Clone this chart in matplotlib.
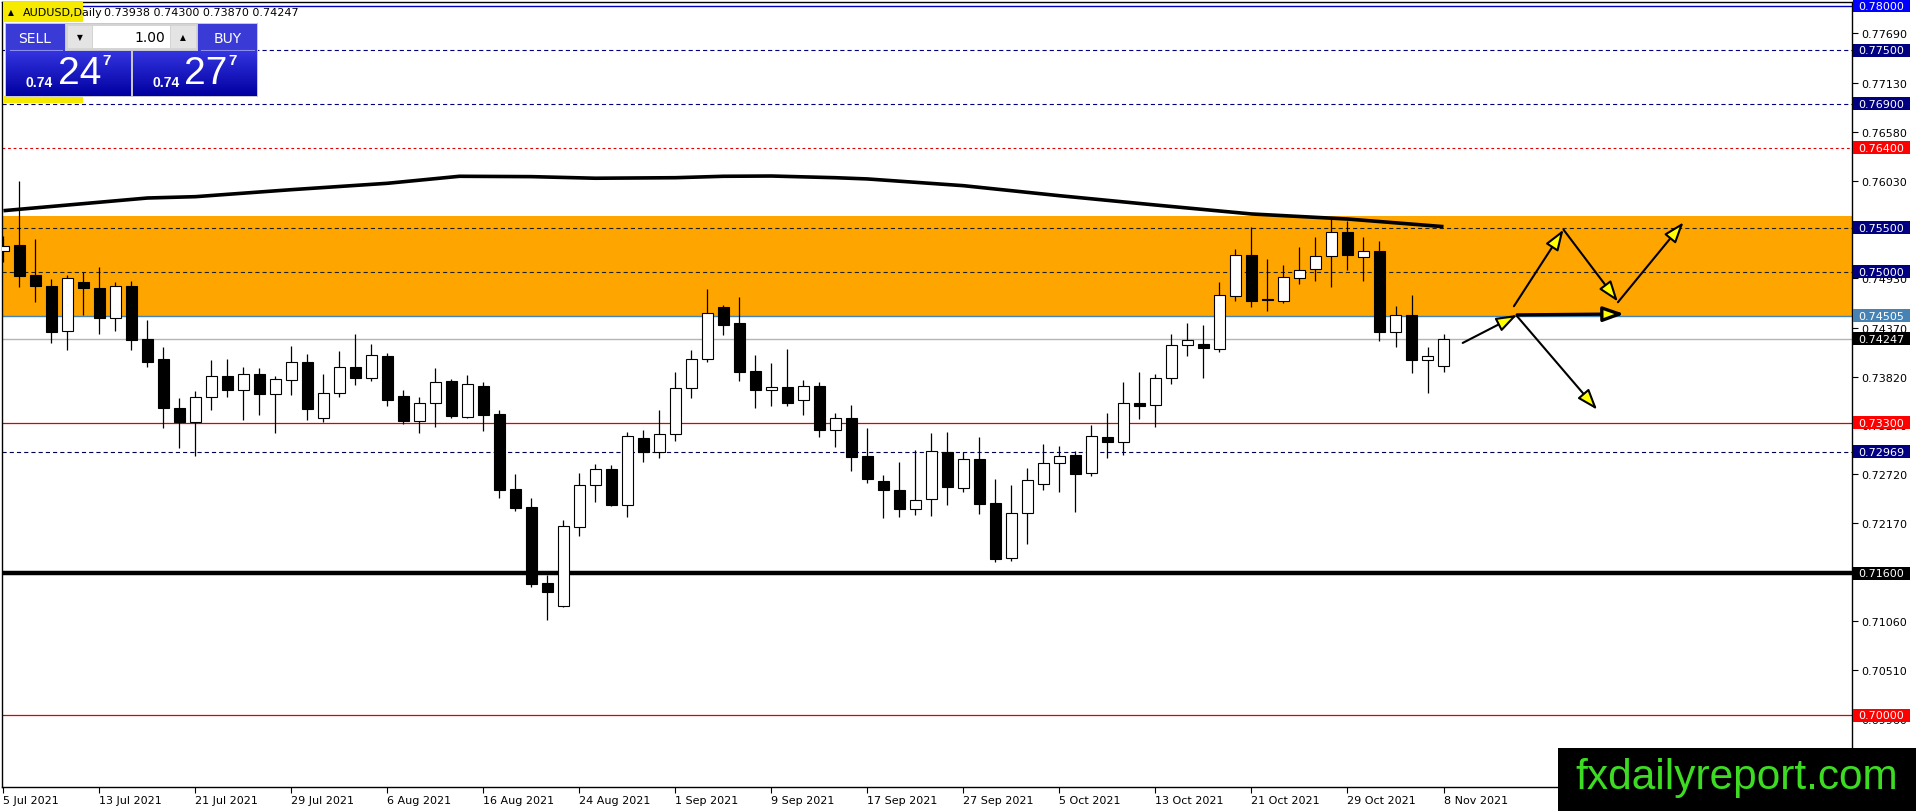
import matplotlib
matplotlib.use('Agg')
import matplotlib.pyplot as plt
import matplotlib.transforms as mtransforms
import numpy as np
from matplotlib.patches import Rectangle
from matplotlib.colors import LinearSegmentedColormap

plt.rcParams['lines.scale_dashes'] = False
plt.rcParams['font.family'] = ['DejaVu Sans']

# AUDUSD daily candles, 5 Jul 2021 - 8 Nov 2021
opens = [0.75236, 0.75304, 0.74966, 0.74842, 0.74334, 0.74887, 0.74819, 0.74481, 0.74842, 0.74244,
         0.74018, 0.73465, 0.73308, 0.73590, 0.73826, 0.73669, 0.73849, 0.73623, 0.73781, 0.73984,
         0.73353, 0.73635, 0.73928, 0.73804, 0.74052, 0.73601, 0.73319, 0.73522, 0.73770, 0.73364,
         0.73714, 0.73398, 0.72552, 0.72349, 0.71491, 0.71232, 0.72123, 0.72597, 0.72777, 0.72371,
         0.73127, 0.72969, 0.73172, 0.73691, 0.74018, 0.74605, 0.74424, 0.73883, 0.73669, 0.73702,
         0.73556, 0.73714, 0.73217, 0.73353, 0.72924, 0.72642, 0.72541, 0.72326, 0.72439, 0.72969,
         0.72563, 0.72890, 0.72394, 0.71773, 0.72281, 0.72608, 0.72845, 0.72935, 0.72732, 0.73138,
         0.73082, 0.73522, 0.73499, 0.73804, 0.74176, 0.74187, 0.74131, 0.74729, 0.75191, 0.74695,
         0.74672, 0.74932, 0.75033, 0.75180, 0.75451, 0.75169, 0.75236, 0.74323, 0.74515, 0.74007,
         0.73938]
highs = [0.75406, 0.76026, 0.75372, 0.74921, 0.74966, 0.75000, 0.75056, 0.74887, 0.74898, 0.74458,
         0.74154, 0.73578, 0.73657, 0.74007, 0.74018, 0.73928, 0.73917, 0.73826, 0.74165, 0.74075,
         0.73849, 0.74108, 0.74300, 0.74187, 0.74086, 0.73669, 0.73590, 0.73917, 0.73793, 0.73838,
         0.73759, 0.73443, 0.72721, 0.72450, 0.71582, 0.72202, 0.72732, 0.72834, 0.72823, 0.73195,
         0.73217, 0.73443, 0.73872, 0.74120, 0.74808, 0.74627, 0.74718, 0.74063, 0.73973, 0.74131,
         0.73781, 0.73759, 0.73409, 0.73499, 0.73240, 0.72710, 0.72856, 0.72992, 0.73183, 0.73195,
         0.72969, 0.73138, 0.72665, 0.72597, 0.72789, 0.73059, 0.73037, 0.72980, 0.73274, 0.73409,
         0.73759, 0.73872, 0.73849, 0.74300, 0.74424, 0.74402, 0.74887, 0.75259, 0.75507, 0.75146,
         0.75079, 0.75282, 0.75394, 0.75620, 0.75575, 0.75394, 0.75349, 0.74616, 0.74740, 0.74154,
         0.74300]
lows = [0.75112, 0.74830, 0.74661, 0.74199, 0.74120, 0.74515, 0.74300, 0.74334, 0.74120, 0.73928,
        0.73240, 0.73014, 0.72924, 0.73443, 0.73590, 0.73330, 0.73387, 0.73183, 0.73612, 0.73330,
        0.73308, 0.73590, 0.73725, 0.73770, 0.73488, 0.73285, 0.73183, 0.73251, 0.73353, 0.73353,
        0.73206, 0.72450, 0.72304, 0.71446, 0.71074, 0.71221, 0.72022, 0.72405, 0.72360, 0.72236,
        0.72856, 0.72901, 0.73093, 0.73578, 0.73984, 0.74289, 0.73770, 0.73465, 0.73488, 0.73488,
        0.73387, 0.73138, 0.73026, 0.72755, 0.72619, 0.72225, 0.72236, 0.72259, 0.72247, 0.72371,
        0.72518, 0.72270, 0.71728, 0.71740, 0.71931, 0.72541, 0.72518, 0.72292, 0.72698, 0.72901,
        0.72935, 0.73341, 0.73251, 0.73736, 0.74052, 0.73804, 0.74097, 0.74672, 0.74605, 0.74560,
        0.74650, 0.74864, 0.74898, 0.74830, 0.75022, 0.74898, 0.74221, 0.74154, 0.73860, 0.73635,
        0.73870]
closes = [0.75293, 0.74954, 0.74842, 0.74323, 0.74932, 0.74819, 0.74481, 0.74842, 0.74233, 0.73984,
          0.73465, 0.73308, 0.73590, 0.73826, 0.73669, 0.73849, 0.73623, 0.73793, 0.73984, 0.73454,
          0.73635, 0.73928, 0.73804, 0.74063, 0.73556, 0.73319, 0.73522, 0.73759, 0.73375, 0.73736,
          0.73387, 0.72541, 0.72337, 0.71480, 0.71390, 0.72134, 0.72597, 0.72777, 0.72371, 0.73150,
          0.72969, 0.73172, 0.73691, 0.74018, 0.74537, 0.74402, 0.73872, 0.73669, 0.73702, 0.73522,
          0.73714, 0.73217, 0.73353, 0.72913, 0.72665, 0.72541, 0.72326, 0.72428, 0.72980, 0.72574,
          0.72890, 0.72383, 0.71762, 0.72281, 0.72653, 0.72845, 0.72924, 0.72721, 0.73150, 0.73082,
          0.73522, 0.73488, 0.73804, 0.74176, 0.74233, 0.74142, 0.74740, 0.75191, 0.74672, 0.74684,
          0.74943, 0.75022, 0.75180, 0.75451, 0.75191, 0.75236, 0.74323, 0.74515, 0.74007, 0.74052,
          0.74247]

# moving average, read at a few bars along the curve
ma_bars = [0, 9, 12, 18, 24, 28.5, 33, 37, 42, 45, 48, 52, 54, 60, 66, 72, 78, 84, 90]
ma_vals = [0.75691, 0.75834, 0.75849, 0.75928, 0.76000, 0.76079, 0.76075, 0.76057, 0.76063,
           0.76079, 0.76082, 0.76063, 0.76049, 0.75973, 0.75860, 0.75755, 0.75654, 0.75597,
           0.75511]

date_labels = ['5 Jul 2021', '13 Jul 2021', '21 Jul 2021', '29 Jul 2021', '6 Aug 2021',
               '16 Aug 2021', '24 Aug 2021', '1 Sep 2021', '9 Sep 2021', '17 Sep 2021',
               '27 Sep 2021', '5 Oct 2021', '13 Oct 2021', '21 Oct 2021', '29 Oct 2021',
               '8 Nov 2021']
date_step = 6

price_ticks = [0.77690, 0.77130, 0.76580, 0.76030, 0.75480, 0.74930, 0.74370, 0.73820,
               0.73270, 0.72720, 0.72170, 0.71620, 0.71060, 0.70510, 0.69960]

# horizontal levels: price, line colour, style, width, label box colour
levels = [
    (0.78000, '#0000c0', '-', 1.0, '#0000ff'),
    (0.77500, '#000080', (0, (3, 2.2)), 0.8, '#000080'),
    (0.76900, '#000080', (0, (3, 2.2)), 0.8, '#000080'),
    (0.76400, '#e00000', (0, (2, 2)), 0.8, '#ff0000'),
    (0.75500, '#202020', (0, (3, 2.2)), 0.8, '#000080'),
    (0.75000, '#202020', (0, (3, 2.2)), 0.8, '#000080'),
    (0.74505, '#4682b4', '-', 1.0, '#4682b4'),
    (0.74247, '#b4b4b4', '-', 1.0, '#000000'),
    (0.73300, '#dd0000', '-', 0.9, '#ff0000'),
    (0.72969, '#000050', (0, (3, 2.2)), 0.8, '#000080'),
    (0.71600, '#000000', '-', 3.2, '#000000'),
    (0.70000, '#dd0000', '-', 0.9, '#ff0000'),
]
zone_low, zone_high = 0.74505, 0.75630

# projection arrows: (bar from, price from, bar to, price to, width)
arrows = [
    (91.2, 0.74199, 94.6, 0.74515, 1.5),
    (94.6, 0.74515, 101.3, 0.74526, 2.4),
    (94.6, 0.74500, 99.6, 0.73446, 1.5),
    (94.4, 0.74613, 97.5, 0.75477, 1.5),
    (97.5, 0.75477, 100.9, 0.74665, 1.5),
    (100.9, 0.74658, 105.0, 0.75560, 1.5),
]

W, H = 1916, 812
fig = plt.figure(figsize=(W / 100, H / 100), dpi=100)
fig.patch.set_facecolor('white')
ax = fig.add_axes([2 / W, 24 / H, 1850 / W, 785 / H])
ax.set_xlim(-0.09, 115.53)
ax.set_ylim(0.69190, 0.78045)

ax.axhspan(zone_low, zone_high, color='#ffa500', zorder=0, lw=0)
for p, col, ls, lw, _ in levels:
    ax.axhline(p, color=col, linestyle=ls, linewidth=lw, zorder=1)

idx = np.arange(len(opens))
o = np.array(opens)
c = np.array(closes)
ax.vlines(idx, lows, highs, color='black', linewidth=0.9, zorder=3)
bull = c >= o
ax.bar(idx, np.abs(c - o), bottom=np.minimum(o, c), width=0.64,
       color=np.where(bull, 'white', 'black'), edgecolor='black', linewidth=0.8, zorder=4)

ax.plot(ma_bars, ma_vals, color='black', linewidth=2.6, zorder=5,
        solid_capstyle='butt', solid_joinstyle='round')

for x0, y0, x1, y1, lw in arrows:
    ax.annotate('', xy=(x1, y1), xytext=(x0, y0),
                arrowprops=dict(arrowstyle='-|>,head_length=0.9,head_width=0.32',
                                mutation_scale=14, fc='#ffff00', ec='black', lw=lw,
                                shrinkA=0, shrinkB=0), zorder=6)

ax.set_xticks(np.arange(len(date_labels)) * date_step)
ax.set_xticklabels(date_labels, ha='left')
ax.tick_params(axis='x', length=4, pad=2, labelsize=8, width=0.8)
ax.yaxis.tick_right()
ax.set_yticks(price_ticks)
ax.set_yticklabels(['%.5f' % t for t in price_ticks])
ax.tick_params(axis='y', length=4, pad=3, labelsize=8, width=0.8)
for s in ax.spines.values():
    s.set_linewidth(1.0)
    s.set_color('black')

# coloured price labels on the axis
bt = mtransforms.blended_transform_factory(ax.transAxes, ax.transData)
box_h = 13 * (0.78045 - 0.69190) / 785
for p, _, _, _, bc in levels:
    ax.add_patch(Rectangle((1.0006, p - box_h / 2), 0.0308, box_h, transform=bt,
                           facecolor=bc, edgecolor='none', clip_on=False, zorder=8))
    ax.text(1.0160, p, '%.5f' % p, transform=bt, ha='center', va='center',
            color='white', fontsize=8, clip_on=False, zorder=9)

# overlay in pixel units for the trade panel and watermark
ov = fig.add_axes([0, 0, 1, 1], zorder=10)
ov.set_axis_off()
ov.patch.set_alpha(0)


def box(x0, y0, x1, y1, color):
    ov.add_patch(Rectangle((x0, y0), x1 - x0, y1 - y0, facecolor=color, edgecolor='none'))


box(3, 3, 83, 23, '#f6ea00')
box(3, 97, 83, 104, '#f6ea00')
ov.text(11, 13, '▲', fontsize=5.5, ha='center', va='center')
ov.text(23, 13, 'AUDUSD,Daily', fontsize=8, ha='left', va='center')
ov.text(104, 13, '0.73938 0.74300 0.73870 0.74247', fontsize=8, ha='left', va='center')

box(5, 24, 258, 98, '#c8c8d0')
box(6, 25, 65, 52, '#3a3ad6')
box(198, 25, 257, 52, '#3a3ad6')
ov.plot([10, 62], [51, 51], color='#8c8cf0', lw=0.8)
ov.plot([201, 254], [51, 51], color='#8c8cf0', lw=0.8)
box(66, 25, 197, 51, '#d4d4d4')
box(93, 27, 170, 49, 'white')
box(68, 27, 92, 49, '#e4e4e4')
box(171, 27, 196, 49, '#e4e4e4')
ov.text(80, 38, '▼', fontsize=5.5, ha='center', va='center')
ov.text(183, 38, '▲', fontsize=5.5, ha='center', va='center')
ov.text(165, 38, '1.00', fontsize=10, ha='right', va='center')
ov.text(35, 39, 'SELL', fontsize=10, color='white', ha='center', va='center')
ov.text(228, 39, 'BUY', fontsize=10, color='white', ha='center', va='center')

grad = LinearSegmentedColormap.from_list('g', ['#3434e0', '#0000a0'])
g = np.linspace(0, 1, 50).reshape(-1, 1)
ov.imshow(g, cmap=grad, extent=(6, 131, 97, 52), aspect='auto', zorder=2)
ov.imshow(g, cmap=grad, extent=(133, 257, 97, 52), aspect='auto', zorder=2)
arial = ['Liberation Sans', 'DejaVu Sans']
for x_small, x_big, x_sup, big in [(39, 80, 107, '24'), (166, 206, 233, '27')]:
    ov.text(x_small, 83, '0.74', fontsize=10, weight='bold', color='white',
            ha='center', va='center', family=arial, zorder=3)
    ov.text(x_big, 74, big, fontsize=28, color='white', ha='center', va='center',
            family=arial, zorder=3)
    ov.text(x_sup, 61, '7', fontsize=11, weight='bold', color='white',
            ha='center', va='center', family=arial, zorder=3)

box(1558, 749, 1916, 812, 'black')
ov.text(1737, 778, 'fxdailyreport.com', fontsize=30.5, color='#3ddc23',
        family=arial, ha='center', va='center')

ov.set_xlim(0, W)
ov.set_ylim(H, 0)

fig.savefig('out.png', dpi=100, facecolor='white')
